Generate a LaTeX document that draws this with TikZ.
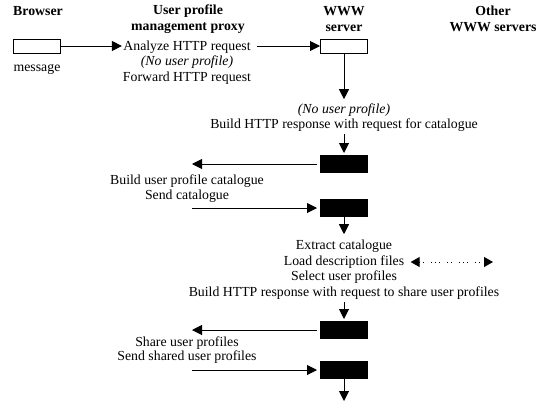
\documentclass[tikz,border=0pt]{standalone}
\usepackage{fontspec}
\setmainfont{Liberation Serif}
\usetikzlibrary{positioning, calc, arrows.meta}

\tikzset{
  txt/.style={font=\fontsize{13.8}{16}\selectfont, inner sep=1pt},
  itxt/.style={font=\fontsize{13.8}{16}\selectfont\itshape, inner sep=1pt},
  hdr/.style={font=\fontsize{13.8}{16}\selectfont\bfseries, align=center, inner sep=1pt},
  wbox/.style={draw, fill=white, minimum width=47pt, minimum height=14pt, inner sep=0pt},
  bbox/.style={draw, fill=black, minimum width=47pt, minimum height=17pt, inner sep=0pt},
  flow/.style={-{Triangle[length=10pt,width=10pt]}},
  peek/.style={{Triangle[length=9pt,width=10pt]}-{Triangle[length=9pt,width=10pt]}, dash pattern=on 1pt off 3pt on 1pt off 7pt on 1pt off 3pt on 1pt off 3pt on 1pt off 7pt}
}

\begin{document}
\begin{tikzpicture}[x=1pt, y=-1pt, line width=1pt]
    \useasboundingbox (0,0) rectangle (556,402);

    % Column heads
    \node[hdr] (hbrowser) at (38,11) {Browser};
    \node[hdr] (hproxy) at (188,19) {User profile\\management proxy};
    \node[hdr] (hserver) at (344,19) {WWW\\server};
    \node[hdr] (hothers) at (493,19) {Other\\WWW servers};

    % Browser
    \node[wbox] (msg) at (37,46) {};
    \node[txt] (msglbl) at (37,69) {message};

    % Proxy, first request
    \node[txt] (analyze) at (187,47) {Analyze HTTP request};
    \node[itxt] (noprof1) at (187,62) {(No user profile)};
    \node[txt] (forward) at (187,78) {Forward HTTP request};

    % Server, first request
    \node[wbox] (srv) at (344,46) {};
    \node[itxt] (noprof2) at (344,110) {(No user profile)};
    \node[txt] (buildcat) at (344,125) {Build HTTP response with request for catalogue};
    \node[bbox] (resp1) at (344,164) {};

    % Catalogue
    \coordinate (tobrowser1) at (192,164);
    \node[txt] (buildprof) at (187,181) {Build user profile catalogue};
    \node[txt] (sendcat) at (187,196) {Send catalogue};
    \coordinate (frombrowser1) at (192,208);
    \node[bbox] (req2) at (344,208) {};

    % Server, second request
    \node[txt] (extract) at (344,246) {Extract catalogue};
    \node[txt] (load) at (344,262) {Load description files};
    \node[txt] (select) at (344,277) {Select user profiles};
    \node[txt] (buildshare) at (344,293) {Build HTTP response with request to share user profiles};
    \coordinate (others) at (493,262);
    \node[bbox] (resp2) at (344,330) {};

    % Sharing
    \coordinate (tobrowser2) at (192,330);
    \node[txt] (share) at (187,343) {Share user profiles};
    \node[txt] (sendshared) at (187,357) {Send shared user profiles};
    \coordinate (frombrowser2) at (192,370);
    \node[bbox] (req3) at (344,370) {};
    \coordinate (onward) at (344,401);

    % Messages
    \draw[flow] (msg.east) -- (msg.east -| analyze.west);
    \draw[flow, shorten <=5pt] (srv.west -| analyze.east) -- (srv.west);
    \draw[flow, shorten >=3pt] (srv.south) -- (noprof2.north);
    \draw[flow, shorten <=1pt, shorten >=2pt] (buildcat.south) -- (resp1.north);
    \draw[flow, shorten <=3pt] (resp1.west) -- (tobrowser1);
    \draw[flow, shorten >=3pt] (frombrowser1) -- (req2.west);
    \draw[flow, shorten >=4pt] (req2.south) -- (extract.north);
    \draw[peek, shorten <=5pt] (load.east) -- (others);
    \draw[flow, shorten <=1pt, shorten >=2pt] (buildshare.south) -- (resp2.north);
    \draw[flow, shorten <=3pt] (resp2.west) -- (tobrowser2);
    \draw[flow, shorten >=3pt] (frombrowser2) -- (req3.west);
    \draw[flow] (req3.south) -- (onward);
\end{tikzpicture}
\end{document}
